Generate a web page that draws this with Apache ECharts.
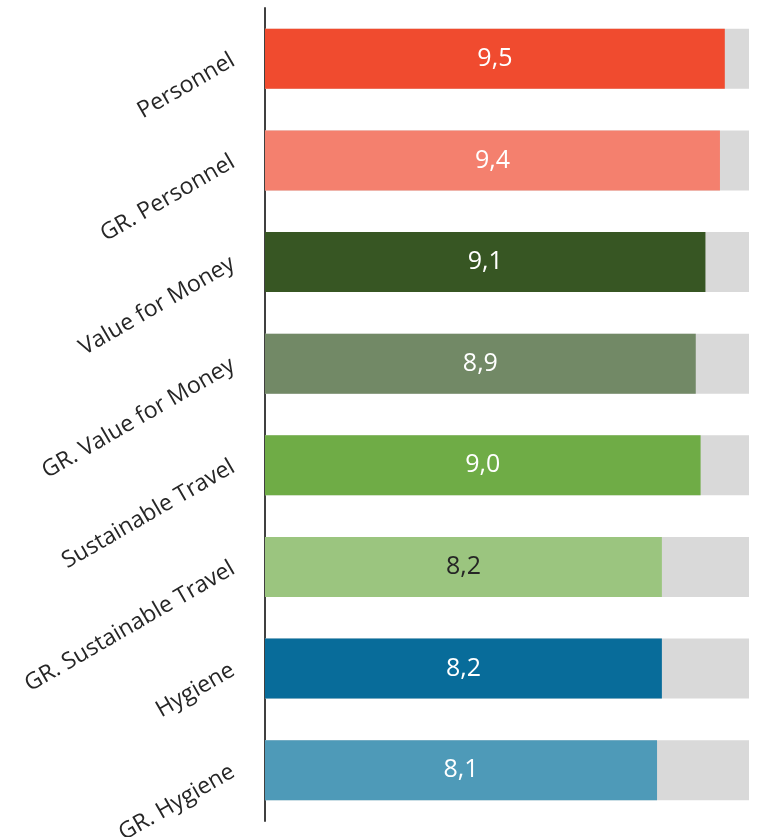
<!DOCTYPE html>
<html>
<head>
<meta charset="utf-8">
<script src="https://cdn.jsdelivr.net/npm/echarts@6/dist/echarts.min.js"></script>
<style>
    html, body { margin: 0; padding: 0; background: #fff; }
    #chart { width: 763px; height: 837px; }
</style>
</head>
<body>
<div id="chart"></div>
<script>
var categories = ['Personnel', 'GR. Personnel', 'Value for Money', 'GR. Value for Money',
    'Sustainable Travel', 'GR. Sustainable Travel', 'Hygiene', 'GR. Hygiene'];
var scores = [9.5, 9.4, 9.1, 8.9, 9.0, 8.2, 8.2, 8.1];
var barColors = ['#F04B2F', '#F4806E', '#375623', '#728966', '#6FAC46', '#9BC57F', '#086C9A', '#4E9AB8'];
var labelColors = ['#fff', '#fff', '#fff', '#fff', '#fff', '#262626', '#fff', '#fff'];
var maxScore = 10;

var chart = echarts.init(document.getElementById('chart'));

var barData = scores.map(function (v, i) {
    return {
        value: v,
        itemStyle: { color: barColors[i] },
        label: { color: labelColors[i] }
    };
});

var option = {
    animation: false,
    grid: {
        left: 265,
        right: 14,
        top: 8,
        bottom: 16,
        containLabel: false,
        outerBoundsMode: 'none'
    },
    xAxis: {
        type: 'value',
        min: 0,
        max: maxScore,
        show: false
    },
    yAxis: {
        type: 'category',
        inverse: true,
        data: categories,
        axisLine: {
            lineStyle: { color: '#404040', width: 2 }
        },
        axisTick: { show: false },
        axisLabel: {
            rotate: 30,
            margin: 32,
            color: '#262626',
            fontSize: 23,
            fontFamily: 'Open Sans'
        }
    },
    series: [{
        // grey track to 10
        type: 'bar',
        data: categories.map(function () { return maxScore; }),
        barWidth: 60,
        barGap: '-100%',
        itemStyle: { color: '#D9D9D9' },
        silent: true,
        z: 1
    }, {
        type: 'bar',
        data: barData,
        barWidth: 60,
        z: 2,
        label: {
            show: true,
            position: 'inside',
            fontSize: 25,
            fontFamily: 'Open Sans',
            formatter: function (p) {
                return p.value.toFixed(1).replace('.', ',');
            }
        }
    }]
};
chart.setOption(option);
</script>
</body>
</html>
